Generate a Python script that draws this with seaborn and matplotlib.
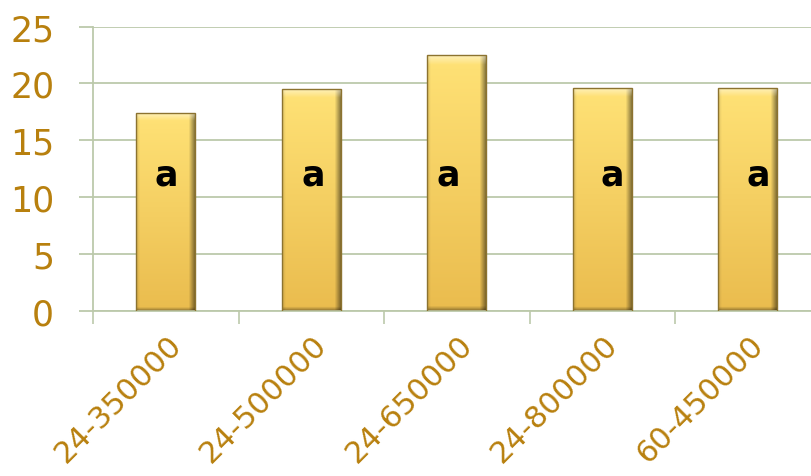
import matplotlib
matplotlib.use("Agg")
import matplotlib.pyplot as plt
import matplotlib.transforms as mtransforms
import numpy as np
import pandas as pd
import seaborn as sns

# values
groups = ["24-350000", "24-500000", "24-650000", "24-800000", "60-450000"]
values = [17.4, 19.5, 22.5, 19.6, 19.6]
letters = ["a", "a", "a", "a", "a"]
letter_y = 12.0
letter_dx = [0.0, 0.015, -0.06, 0.07, 0.07]

gold_text = "#B8800E"
grid_col = "#BCC9AB"

sns.set_style("white")
plt.rcParams["font.family"] = ["DejaVu Sans"]

df = pd.DataFrame({"group": groups, "value": values})

fig = plt.figure(figsize=(8.11, 4.77), dpi=100)
ax = fig.add_axes([0.1147, 0.3466, 0.897, 0.5954])

sns.barplot(data=df, x="group", y="value", color="#F2CC60", width=0.405,
            edgecolor="#8C7330", linewidth=1.0, ax=ax, zorder=2)


def bar_gradient(n=120, m=60):
    t = np.linspace(0, 1, n)[:, None]
    top = np.array([255, 226, 118]) / 255
    bot = np.array([234, 188, 78]) / 255
    img = top * (1 - t[..., None]) + bot * t[..., None]
    img = np.repeat(img, m, axis=1)
    s = np.linspace(0, 1, m)
    # darker right edge, slight shade left edge
    right = np.clip((s - 0.9) / 0.1, 0, 1)
    left = np.clip((0.06 - s) / 0.06, 0, 1)
    shade = 1 - 0.45 * right - 0.12 * left
    img = img * shade[None, :, None]
    # light bevel on top, darker at the foot
    bevel = np.clip((0.035 - t[:, 0]) / 0.035, 0, 1)
    img = img + (1 - img) * 0.45 * bevel[:, None, None]
    foot = np.clip((t[:, 0] - 0.985) / 0.015, 0, 1)
    img = img * (1 - 0.35 * foot[:, None, None])
    return np.clip(img, 0, 1)


grad = bar_gradient()
for p in ax.patches:
    x0, y0 = p.get_x(), p.get_y()
    w, h = p.get_width(), p.get_height()
    im = ax.imshow(grad, extent=[x0, x0 + w, y0, y0 + h], aspect="auto",
                   origin="upper", zorder=2.5, interpolation="bilinear")
    im.set_clip_path(p)
    p.set_facecolor("none")
    p.set_zorder(3)

for i, lab in enumerate(letters):
    ax.text(i + letter_dx[i], letter_y, lab, ha="center", va="center",
            fontsize=25, fontweight="bold", color="black", zorder=4)

ax.set_xlim(-0.5, len(groups) - 0.5)
ax.set_ylim(0, 25)
ax.set_yticks(range(0, 26, 5))
ax.yaxis.grid(True, color=grid_col, linewidth=1.3, zorder=0)
ax.set_axisbelow(True)

ax.set_xlabel("")
ax.set_ylabel("")
ax.set_xticks(range(len(groups)))
ax.set_xticklabels(groups, rotation=45, ha="right", va="center",
                   rotation_mode="anchor")
ax.set_xticks(np.arange(-0.5, len(groups) + 0.5, 1), minor=True)
ax.tick_params(axis="x", which="major", length=0, pad=21,
               labelsize=22, labelcolor=gold_text)
ax.tick_params(axis="x", which="minor", length=9, width=1.2,
               color=grid_col, direction="out", bottom=True)
ax.tick_params(axis="y", length=10, width=1.3, color=grid_col, pad=18,
               labelsize=25, labelcolor=gold_text, left=True)
shift = mtransforms.ScaledTranslation(8 / 72, 0, fig.dpi_scale_trans)
for lbl in ax.get_xticklabels():
    lbl.set_transform(lbl.get_transform() + shift)

for side in ["top", "right"]:
    ax.spines[side].set_visible(False)
for side in ["left", "bottom"]:
    ax.spines[side].set_color(grid_col)
    ax.spines[side].set_linewidth(1.3)

fig.savefig("out.png", dpi=100)
